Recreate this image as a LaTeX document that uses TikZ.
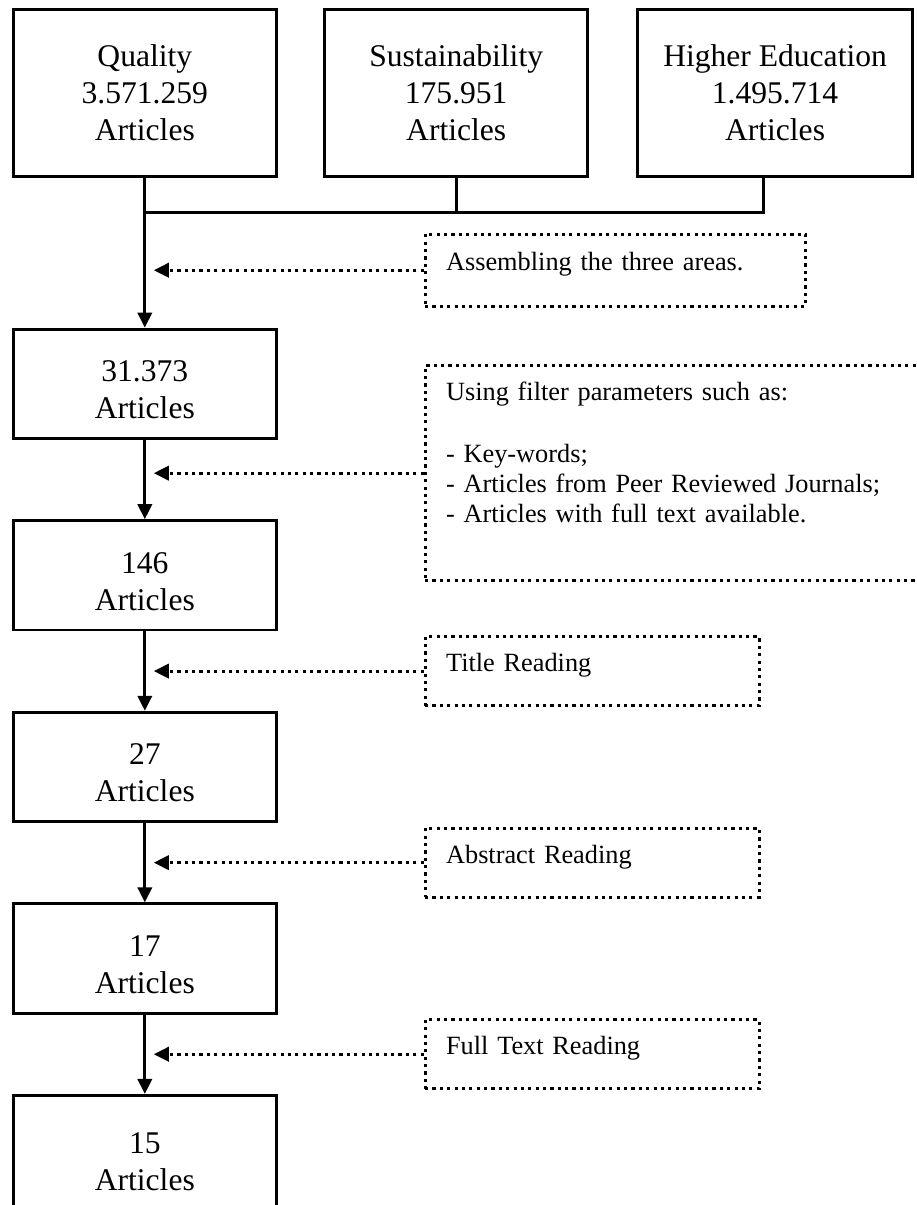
\documentclass[tikz,border=0pt]{standalone}
\usepackage{fontspec}
\setmainfont{Liberation Serif}
\usetikzlibrary{positioning, arrows.meta, calc}

\begin{document}
\begin{tikzpicture}[
  line width=1.1pt,
  areabox/.style={draw, line width=1.1pt, minimum width=35.1mm, minimum height=22.3mm, align=center, font=\fontsize{12pt}{14.1pt}\selectfont},
  countbox/.style={draw, line width=1.1pt, minimum width=35.1mm, minimum height=14.6mm, align=center, text height=26.8pt, font=\fontsize{12pt}{14.1pt}\selectfont},
  note/.style={draw, dash pattern=on 1.2pt off 1.6pt, line width=1.1pt, inner xsep=2.8mm, minimum height=9.2mm, align=left, text depth=6.5pt, font=\fontsize{10pt}{11.4pt}\selectfont},
  arr/.style={-{Triangle[length=2mm, width=1.9mm]}, line width=1.1pt},
  dotarr/.style={arr, dash pattern=on 1.2pt off 1.6pt},
]
  \useasboundingbox (0,0) rectangle (122.47mm,-160.94mm);
  % search areas
  \node[areabox, anchor=north west] (qual) at (1.6mm,-1.07mm) {Quality\\3.571.259\\Articles};
  \node[areabox, right=6.1mm of qual] (sust) {Sustainability\\175.951\\Articles};
  \node[areabox, minimum width=36.7mm, right=6.3mm of sust] (high) {Higher Education\\1.495.714\\Articles};
  % screening steps
  \node[countbox, below=20mm of qual]   (n31)  {31.373\\Articles};
  \node[countbox, below=10.6mm of n31]  (n146) {146\\Articles};
  \node[countbox, below=10.6mm of n146] (n27)  {27\\Articles};
  \node[countbox, below=10.6mm of n27]  (n17)  {17\\Articles};
  \node[countbox, below=10.6mm of n17, minimum height=16mm] (n15) {15\\Articles};
  % joining the three areas
  \coordinate (jn) at ([yshift=-4.67mm]qual.south);
  \draw (sust.south) -- (sust.south |- jn);
  \draw ([xshift=-1.5mm]high.south) |- (jn);
  \draw[arr] (qual.south) -- (n31.north);
  \foreach \a/\b in {n31/n146, n146/n27, n27/n17, n17/n15} \draw[arr] (\a) -- (\b);
  % screening notes
  \node[note, text width=45.2mm, minimum height=9.6mm, anchor=west] (asm)
    at ($(jn -| n31.east)!.5!(n31.north east) + (19.5mm,0)$) {Assembling the three areas.};
  \node[note, text width=63.5mm, minimum height=28.7mm, text depth=62pt, anchor=west] (filt)
    at ($(n31.south east)!.42!(n146.north east) + (19.5mm,0)$)
    {Using filter parameters such as:\\[12pt]- Key-words;\\- Articles from Peer Reviewed Journals;\\- Articles with full text available.};
  \node[note, text width=39mm, anchor=west] (tread)
    at ($(n146.south east)!.5!(n27.north east) + (19.5mm,0)$) {Title Reading};
  \node[note, text width=39mm, anchor=west] (aread)
    at ($(n27.south east)!.5!(n17.north east) + (19.5mm,0)$) {Abstract Reading};
  \node[note, text width=39mm, anchor=west] (fread)
    at ($(n17.south east)!.5!(n15.north east) + (19.5mm,0)$) {Full Text Reading};
  % dotted arrows onto the main line
  \foreach \n/\k in {asm/1, filt/2, tread/3, aread/4, fread/5} {
    \coordinate (e\k) at ($(n31.north |- \n.west) + (1.2mm,0)$);
    \draw[dotarr] (\n.west) -- (e\k);
  }
\end{tikzpicture}
\end{document}
